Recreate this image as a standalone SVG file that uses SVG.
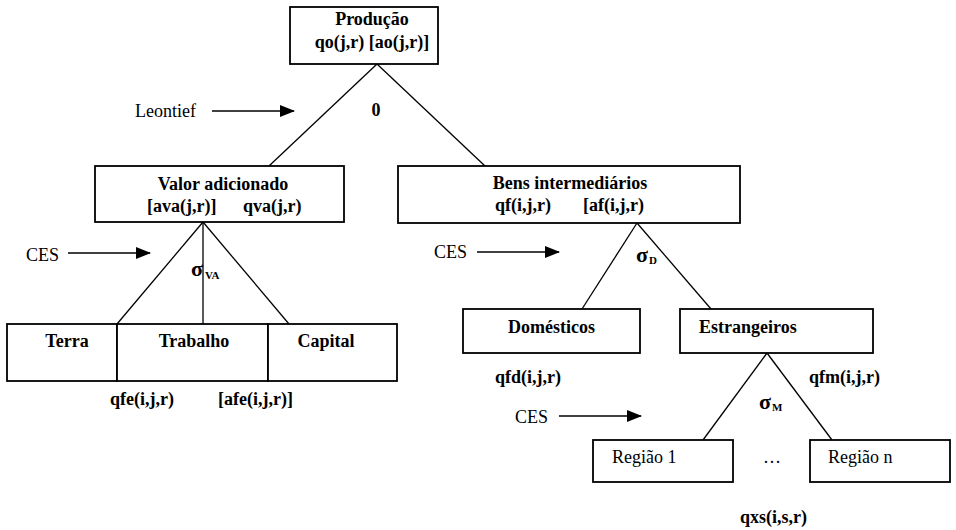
<svg xmlns="http://www.w3.org/2000/svg" width="956" height="530" viewBox="0 0 956 530">
<defs>
<marker id="ah" markerUnits="userSpaceOnUse" markerWidth="16" markerHeight="12" refX="14" refY="6" orient="auto">
<path d="M0,0 L15,6 L0,12 Z" fill="#000"/>
</marker>
<style>
.box{fill:#fff;stroke:#000;stroke-width:1.8}
.ln{stroke:#000;stroke-width:1.3;fill:none}
.arr{stroke:#000;stroke-width:1.6;fill:none}
text{font-family:"Liberation Serif","Times New Roman",serif;font-size:18px;fill:#000}
.b{font-weight:bold}
.sub{font-size:11px;font-weight:bold}
.sig{font-size:22px;font-weight:bold}
</style>
</defs>
<rect width="956" height="530" fill="#fff"/>

<g id="connectors">
<line class="ln" x1="377" y1="64" x2="269" y2="166"/>
<line class="ln" x1="377" y1="64" x2="485" y2="166"/>
<line class="ln" x1="203" y1="222" x2="117" y2="324"/>
<line class="ln" x1="203" y1="222" x2="203" y2="324"/>
<line class="ln" x1="203" y1="222" x2="289" y2="324"/>
<line class="ln" x1="637" y1="223" x2="582" y2="309"/>
<line class="ln" x1="637" y1="223" x2="711" y2="309"/>
<line class="ln" x1="767" y1="353" x2="703" y2="440"/>
<line class="ln" x1="767" y1="353" x2="832" y2="440"/>
<line class="arr" x1="212" y1="111" x2="294" y2="111" marker-end="url(#ah)"/>
<line class="arr" x1="68" y1="253" x2="150" y2="253" marker-end="url(#ah)"/>
<line class="arr" x1="477" y1="252" x2="559" y2="252" marker-end="url(#ah)"/>
<line class="arr" x1="559" y1="416" x2="641" y2="416" marker-end="url(#ah)"/>
</g>

<g id="producao">
<rect class="box" x="290" y="7" width="148" height="57"/>
<text class="b" x="372" y="25" text-anchor="middle">Produção</text>
<text class="b" x="372" y="48" text-anchor="middle">qo(j,r) [ao(j,r)]</text>
</g>

<g id="leontief">
<text x="196" y="117" text-anchor="end">Leontief</text>
<text class="b" x="376" y="116" text-anchor="middle">0</text>
</g>

<g id="valor">
<rect class="box" x="95" y="166" width="249" height="56"/>
<text class="b" x="223" y="190" text-anchor="middle">Valor adicionado</text>
<text class="b" x="147" y="212">[ava(j,r)]</text>
<text class="b" x="243" y="212">qva(j,r)</text>
</g>

<g id="bens">
<rect class="box" x="398" y="166" width="342" height="57"/>
<text class="b" x="570" y="189" text-anchor="middle">Bens intermediários</text>
<text class="b" x="495" y="211">qf(i,j,r)</text>
<text class="b" x="583" y="211">[af(i,j,r)</text>
</g>

<g id="ces-va">
<text x="26" y="261">CES</text>
<text class="sig" x="191" y="276">σ</text>
<text class="sub" x="205" y="279">VA</text>
</g>

<g id="terra">
<rect class="box" x="7" y="324" width="110" height="57"/>
<text class="b" x="67" y="347" text-anchor="middle">Terra</text>
</g>
<g id="trabalho">
<rect class="box" x="117" y="324" width="151" height="57"/>
<text class="b" x="194" y="347" text-anchor="middle">Trabalho</text>
</g>
<g id="capital">
<rect class="box" x="268" y="324" width="129" height="57"/>
<text class="b" x="326" y="347" text-anchor="middle">Capital</text>
</g>
<g id="fatores-labels">
<text class="b" x="110" y="405">qfe(i,j,r)</text>
<text class="b" x="218" y="405">[afe(i,j,r)]</text>
</g>

<g id="ces-d">
<text x="434" y="258">CES</text>
<text class="sig" x="636" y="262">σ</text>
<text class="sub" x="649" y="264">D</text>
</g>

<g id="domesticos">
<rect class="box" x="463" y="309" width="177" height="44"/>
<text class="b" x="551.5" y="333" text-anchor="middle">Domésticos</text>
<text class="b" x="495" y="383">qfd(i,j,r)</text>
</g>

<g id="estrangeiros">
<rect class="box" x="680" y="309" width="193" height="44"/>
<text class="b" x="699" y="333">Estrangeiros</text>
<text class="b" x="809" y="383">qfm(i,j,r)</text>
</g>

<g id="ces-m">
<text x="515" y="423">CES</text>
<text class="sig" x="759" y="409">σ</text>
<text class="sub" x="772" y="411">M</text>
</g>

<g id="regiao1">
<rect class="box" x="593" y="440" width="140" height="42"/>
<text x="612" y="463">Região 1</text>
</g>
<g id="ellipsis">
<text x="763" y="463" fill="#444">…</text>
</g>
<g id="regiaon">
<rect class="box" x="810" y="440" width="140" height="42"/>
<text x="828" y="463">Região n</text>
</g>
<g id="qxs">
<text class="b" x="740" y="523">qxs(i,s,r)</text>
</g>
</svg>
